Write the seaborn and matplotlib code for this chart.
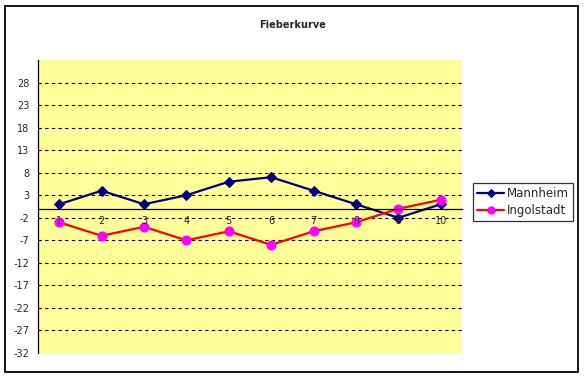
import numpy as np
import pandas as pd
import matplotlib
matplotlib.use("Agg")
import matplotlib.pyplot as plt
import seaborn as sns
from matplotlib.patches import Rectangle

days = [1, 2, 3, 4, 5, 6, 7, 8, 9, 10]
mannheim = [1, 4, 1, 3, 6, 7, 4, 1, -2, 1]
ingolstadt = [-3, -6, -4, -7, -5, -8, -5, -3, 0, 2]
y_ticks = list(range(-32, 29, 5))

sns.set_style("white")
plt.rcParams['font.family'] = ['DejaVu Sans']

df = pd.DataFrame({'Tag': days, 'Mannheim': mannheim, 'Ingolstadt': ingolstadt})

fig = plt.figure(figsize=(5.85, 3.78), dpi=100)
fig.patch.set_facecolor('white')
ax = fig.add_axes([38 / 585, 25 / 378, 424 / 585, 293 / 378])
ax.set_facecolor('#FFFF99')

sns.lineplot(data=df, x='Tag', y='Mannheim', ax=ax, color='#000080', lw=1.6,
             marker='D', markersize=5.5, markerfacecolor='#000080',
             markeredgecolor='#000080', label='Mannheim')
sns.lineplot(data=df, x='Tag', y='Ingolstadt', ax=ax, color='#FF0000', lw=1.6,
             marker='o', markersize=6.5, markerfacecolor='#FF00FF',
             markeredgecolor='#FF00FF', label='Ingolstadt')

ax.set_xlim(0.5, 10.5)
ax.set_ylim(-32, 33)
ax.set_yticks(y_ticks)
ax.set_yticklabels([str(t) for t in y_ticks], fontsize=7)
ax.yaxis.grid(True, linestyle=(0, (3, 3)), color='black', lw=0.8)
ax.yaxis.get_gridlines()[0].set_visible(False)
ax.tick_params(axis='y', direction='out', length=4, width=0.8, color='black', pad=2)

# category axis crossing at zero, labels drawn above the markers
ax.spines['bottom'].set_position(('data', 0))
for s in ['top', 'right']:
    ax.spines[s].set_visible(False)
ax.spines['left'].set_color('black')
ax.spines['left'].set_linewidth(0.9)
ax.spines['bottom'].set_color('black')
ax.spines['bottom'].set_linewidth(0.9)
ax.xaxis.set_zorder(5)

ax.set_xticks([d + 0.5 for d in days[:-1]])
ax.set_xticklabels([])
ax.set_xticks(days, minor=True)
ax.set_xticklabels([str(d) for d in days], minor=True, fontsize=7)
ax.tick_params(axis='x', which='major', direction='out', length=4, width=0.8, color='black')
ax.tick_params(axis='x', which='minor', length=0, pad=5)
ax.set_xlabel('')
ax.set_ylabel('')

ax.legend_.remove()
handles, labels = ax.get_legend_handles_labels()
leg = fig.legend(handles, labels, loc='upper left', bbox_to_anchor=(473 / 585, 1 - 183 / 378),
                 fontsize=8.5, frameon=True, fancybox=False, edgecolor='black',
                 handlelength=2.3, handletextpad=0.2, borderpad=0.35, labelspacing=0.3,
                 borderaxespad=0, markerscale=0.8)
leg.get_frame().set_linewidth(0.9)

fig.text(293 / 585, 1 - 25 / 378, 'Fieberkurve', ha='center', va='center',
         fontsize=7, fontweight='bold')

fig.patches.append(Rectangle((5 / 585, 6 / 378), 573 / 585, 366 / 378,
                             transform=fig.transFigure, fill=False,
                             edgecolor='black', lw=1.3))

fig.savefig('out.png', dpi=100)
